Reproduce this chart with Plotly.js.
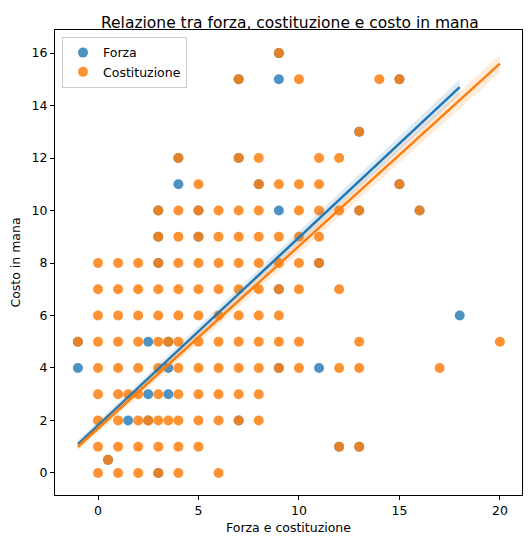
<!DOCTYPE html>
<html>
<head>
<meta charset="utf-8">
<script src="https://cdn.plot.ly/plotly-3.0.1.min.js"></script>
<style>body{margin:0}</style>
</head>
<body>
<div id="plotly" style="width:532px;height:547px"></div>
<script>
// Costo in mana rows, with the x values (costituzione) found on each row
var costRowY = [0, 0.5, 1, 2, 3, 4, 5, 6, 7, 8, 9, 10, 11, 12, 13, 15, 16];
var costRowX = [
  [0, 1, 2, 3, 4, 6],
  [0.5],
  [0, 1, 2, 3, 4, 5, 12, 13],
  [0, 1, 2, 2.5, 3, 3.5, 4, 5, 6, 7, 8],
  [0, 1, 1.5, 2, 3, 4, 5, 6, 7, 8],
  [0, 1, 2, 3, 4, 5, 6, 7, 8, 9, 10, 12, 13, 17],
  [-1, 0, 1, 2, 3, 3.5, 4, 5, 6, 7, 8, 9, 10, 13, 20],
  [0, 1, 2, 3, 4, 5, 6, 7, 8, 9],
  [0, 1, 2, 3, 4, 5, 6, 7, 8, 9, 10, 12],
  [0, 1, 2, 3, 4, 5, 6, 7, 8, 9, 10, 11],
  [3, 4, 5, 6, 7, 8, 9, 10, 11],
  [3, 4, 5, 6, 7, 8, 10, 11, 12, 13, 16],
  [5, 8, 9, 10, 11, 15],
  [4, 7, 8, 11, 12],
  [13],
  [7, 10, 14, 15],
  [9]
];

// Forza rows (only the points that show through)
var forzaRowY = [0, 0.5, 1, 2, 3, 4, 5, 6, 7, 8, 9, 10, 11, 12, 13, 15, 16];
var forzaRowX = [
  [3],
  [0.5],
  [12, 13],
  [1.5, 2.5, 7],
  [2.5, 3.5],
  [-1, 3.5, 9, 11],
  [-1, 2.5, 3.5],
  [18],
  [9],
  [3, 11],
  [3, 5],
  [3, 5, 9, 13, 16],
  [4, 8, 15],
  [4, 7],
  [13],
  [7, 9, 15],
  [9]
];

// regression lines and band
var forzaLineX = [-1, 18];
var forzaLineY = [1.1, 14.7];
var forzaBand = [0.15, 0.3];
var costLineX = [-1, 20];
var costLineY = [1.0, 15.6];
var costBand = [0.15, 0.35];

function flatten(rowsY, rowsX) {
  var xs = [], ys = [];
  rowsX.forEach(function(row, i) {
    row.forEach(function(x) { xs.push(x); ys.push(rowsY[i]); });
  });
  return {x: xs, y: ys};
}

var blue = '#1f77b4', orange = '#ff7f0e';
var f = flatten(forzaRowY, forzaRowX);
var c = flatten(costRowY, costRowX);

function band(lx, ly, w, color) {
  return {
    x: [lx[0], lx[1], lx[1], lx[0]],
    y: [ly[0] - w[0], ly[1] - w[1], ly[1] + w[1], ly[0] + w[0]],
    fill: 'toself', mode: 'lines', line: {width: 0},
    fillcolor: color, hoverinfo: 'skip', showlegend: false
  };
}

var data = [
  {x: f.x, y: f.y, type: 'scatter', mode: 'markers', name: 'Forza',
   marker: {color: blue, size: 10, opacity: 0.8}},
  {x: c.x, y: c.y, type: 'scatter', mode: 'markers', name: 'Costituzione',
   marker: {color: orange, size: 10, opacity: 0.85}},
  band(forzaLineX, forzaLineY, forzaBand, 'rgba(31,119,180,0.15)'),
  {x: forzaLineX, y: forzaLineY, type: 'scatter', mode: 'lines', showlegend: false,
   line: {color: blue, width: 2.5}},
  band(costLineX, costLineY, costBand, 'rgba(255,127,14,0.15)'),
  {x: costLineX, y: costLineY, type: 'scatter', mode: 'lines', showlegend: false,
   line: {color: orange, width: 2.5}}
];

var axisStyle = {
  showgrid: false, zeroline: false, showline: true, mirror: true,
  linecolor: 'black', linewidth: 1, ticks: 'outside', ticklen: 4,
  tickcolor: 'black', tickfont: {size: 12.5, color: 'black'}
};

var layout = {
  width: 532, height: 547,
  font: {family: 'DejaVu Sans', color: 'black'},
  title: {text: 'Relazione tra forza, costituzione e costo in mana',
          font: {size: 15.5}, x: 0.545, y: 0.968, xanchor: 'center'},
  xaxis: Object.assign({}, axisStyle, {
    range: [-2.14, 21.1], tickvals: [0, 5, 10, 15, 20],
    title: {text: 'Forza e costituzione', font: {size: 12.5}, standoff: 6}
  }),
  yaxis: Object.assign({}, axisStyle, {
    range: [-0.84, 16.88], tickvals: [0, 2, 4, 6, 8, 10, 12, 14, 16],
    title: {text: 'Costo in mana', font: {size: 12.5}, standoff: 8}
  }),
  margin: {l: 55, r: 10, t: 30, b: 52},
  showlegend: true,
  legend: {x: 0.015, y: 0.985, xanchor: 'left', yanchor: 'top',
           bordercolor: '#ccc', borderwidth: 1, font: {size: 12.5}},
  plot_bgcolor: 'white', paper_bgcolor: 'white'
};

Plotly.newPlot('plotly', data, layout, {displayModeBar: false});
</script>
</body>
</html>
